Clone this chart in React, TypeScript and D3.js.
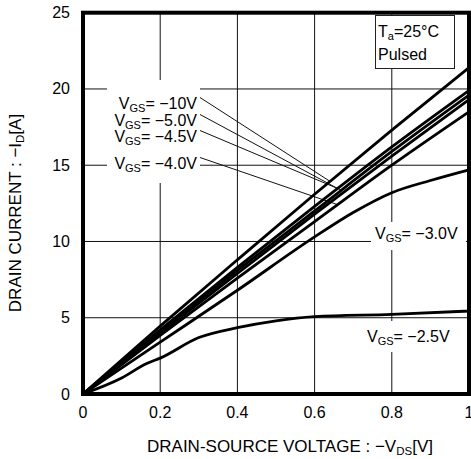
import { useRef, useEffect } from 'react';
import * as d3 from 'd3';

// Axis ticks
const xTicks = [0, 0.2, 0.4, 0.6, 0.8, 1];
const xTickLabels = ['0', '0.2', '0.4', '0.6', '0.8', '1'];
const yTicks = [0, 5, 10, 15, 20, 25];
const yTickLabels = ['0', '5', '10', '15', '20', '25'];

// Drain current curves
const vLinear = [0, 0.2, 0.4, 0.6, 0.8, 1.0];
const id10 = [0, 4.45, 8.8, 13.1, 17.3, 21.4];
const id50 = [0, 4.2, 8.3, 12.3, 16.2, 19.9];
const id45 = [0, 4.1, 8.1, 12.0, 15.9, 19.6];
const idUnlabeled = [0, 4.0, 7.9, 11.8, 15.6, 19.3];
const id40 = [0, 3.85, 7.6, 11.3, 15.0, 18.5];

const v30 = [0, 0.2, 0.4, 0.6, 0.7, 0.8, 0.9, 1.0];
const id30 = [0, 3.4, 6.8, 10.3, 11.9, 13.2, 14.0, 14.7];

const v25 = [0, 0.1, 0.165, 0.2, 0.3, 0.4, 0.5, 0.6, 0.8, 1.0];
const id25 = [0, 1.05, 2.0, 2.35, 3.7, 4.35, 4.8, 5.07, 5.22, 5.44];

// Labels with leader lines: text, series index, V where the leader meets the curve
const leaderLabels = ['\u221210V', '\u22125.0V', '\u22124.5V', '\u22124.0V'];
const leaderSeries = [0, 1, 2, 4];
const leaderEndV = [0.64, 0.66, 0.67, 0.66];

function App() {
    const graphRef = useRef<SVGSVGElement | null>(null);

    const width = 471;
    const height = 459;
    const left = 83;
    const right = 469;
    const top = 12.7;
    const bottom = 394;
    const font = '"Liberation Sans", Arial, sans-serif';

    useEffect(() => {
        const svg = d3.select(graphRef.current);
        svg.selectAll('*').remove();

        const x = d3.scaleLinear().domain([0, 1]).range([left, right]);
        const y = d3.scaleLinear().domain([0, 25]).range([bottom, top]);

        const series = [
            { v: vLinear, id: id10 },
            { v: vLinear, id: id50 },
            { v: vLinear, id: id45 },
            { v: vLinear, id: idUnlabeled },
            { v: vLinear, id: id40 },
            { v: v30, id: id30 },
            { v: v25, id: id25 },
        ];

        // Grid
        const grid = svg.append('g').attr('stroke', '#111').attr('stroke-width', 1);
        grid.selectAll('line.vx')
            .data(xTicks.slice(1, -1))
            .join('line')
            .attr('x1', (d) => x(d))
            .attr('x2', (d) => x(d))
            .attr('y1', top)
            .attr('y2', bottom);
        grid.selectAll('line.hy')
            .data(yTicks.slice(1, -1))
            .join('line')
            .attr('x1', left)
            .attr('x2', right)
            .attr('y1', (d) => y(d))
            .attr('y2', (d) => y(d));

        // Label backgrounds that break the grid
        const bg = svg.append('g').attr('fill', 'white');
        bg.append('rect').attr('x', 107).attr('y', 80).attr('width', 93).attr('height', 103);
        bg.append('rect').attr('x', 371).attr('y', 222).attr('width', 95).attr('height', 28);
        bg.append('rect').attr('x', 364).attr('y', 321).attr('width', 92).attr('height', 31);

        // Leader lines
        const interp = (vs: number[], is: number[], v: number) => {
            const k = d3.bisectRight(vs, v) - 1;
            const t = (v - vs[k]) / (vs[k + 1] - vs[k]);
            return is[k] + t * (is[k + 1] - is[k]);
        };
        const labelBase = [109, 126, 142, 169];
        svg.append('g')
            .attr('stroke', '#111')
            .attr('stroke-width', 1)
            .selectAll('line')
            .data(leaderLabels)
            .join('line')
            .attr('x1', 200)
            .attr('y1', (d, i) => labelBase[i] - 11.5)
            .attr('x2', (d, i) => x(leaderEndV[i]))
            .attr('y2', (d, i) => {
                const s = series[leaderSeries[i]];
                return y(interp(s.v, s.id, leaderEndV[i]));
            });

        // Curves
        const line = d3
            .line<[number, number]>()
            .x((d) => x(d[0]))
            .y((d) => y(d[1]))
            .curve(d3.curveMonotoneX);
        svg.append('g')
            .selectAll('path')
            .data(series)
            .join('path')
            .attr('d', (s) => line(s.v.map((v, i) => [v, s.id[i]] as [number, number])))
            .attr('fill', 'none')
            .attr('stroke', '#000')
            .attr('stroke-width', 2.8)
            .attr('stroke-linejoin', 'round');

        // Frame
        svg.append('rect')
            .attr('x', left)
            .attr('y', top)
            .attr('width', right - left)
            .attr('height', bottom - top)
            .attr('fill', 'none')
            .attr('stroke', '#000')
            .attr('stroke-width', 4);

        // Tick labels
        svg.append('g')
            .selectAll('text')
            .data(xTicks)
            .join('text')
            .attr('x', (d) => x(d))
            .attr('y', 418)
            .attr('text-anchor', 'middle')
            .text((d, i) => xTickLabels[i]);
        svg.append('g')
            .selectAll('text')
            .data(yTicks)
            .join('text')
            .attr('x', 70)
            .attr('y', (d) => y(d) + 5.5)
            .attr('text-anchor', 'end')
            .text((d, i) => yTickLabels[i]);

        // V_GS label helper
        const vgs = (g: any, px: number, py: number, value: string, anchor: string) => {
            const t = g.append('text').attr('x', px).attr('y', py).attr('text-anchor', anchor);
            t.append('tspan').text('V');
            t.append('tspan').attr('font-size', 11).attr('dy', 3).text('GS');
            t.append('tspan').attr('dy', -3).text('= ' + value);
        };
        const labels = svg.append('g');
        leaderLabels.forEach((l, i) => vgs(labels, 197, labelBase[i], l, 'end'));
        vgs(labels, 375, 239, '\u22123.0V', 'start');
        vgs(labels, 367, 341.5, '\u22122.5V', 'start');

        // Condition box
        svg.append('rect')
            .attr('x', 375.5)
            .attr('y', 15.5)
            .attr('width', 79)
            .attr('height', 53)
            .attr('fill', 'white')
            .attr('stroke', '#222')
            .attr('stroke-width', 1);
        const ta = svg.append('text').attr('x', 378).attr('y', 37);
        ta.append('tspan').text('T');
        ta.append('tspan').attr('font-size', 11).attr('dy', 3).text('a');
        ta.append('tspan').attr('dy', -3).text('=25\u00B0C');
        svg.append('text').attr('x', 378).attr('y', 60).text('Pulsed');

        // Axis titles
        const xt = svg
            .append('text')
            .attr('x', 290)
            .attr('y', 452)
            .attr('text-anchor', 'middle')
            .attr('font-size', 17);
        xt.append('tspan').text('DRAIN-SOURCE VOLTAGE : \u2212V');
        xt.append('tspan').attr('font-size', 11.5).attr('dy', 3).text('DS');
        xt.append('tspan').attr('dy', -3).text('[V]');

        const yt = svg
            .append('text')
            .attr('transform', 'translate(21,213) rotate(-90)')
            .attr('text-anchor', 'middle')
            .attr('font-size', 17);
        yt.append('tspan').text('DRAIN CURRENT : \u2212I');
        yt.append('tspan').attr('font-size', 11.5).attr('dy', 3).text('D');
        yt.append('tspan').attr('dy', -3).text('[A]');
    }, []);

    return (
        <svg
            ref={graphRef}
            width={width}
            height={height}
            style={{ position: 'absolute', left: 0, top: 0, background: 'white' }}
            fontFamily={font}
            fontSize={16}
            fill="#000"
        ></svg>
    );
}

export default App;
